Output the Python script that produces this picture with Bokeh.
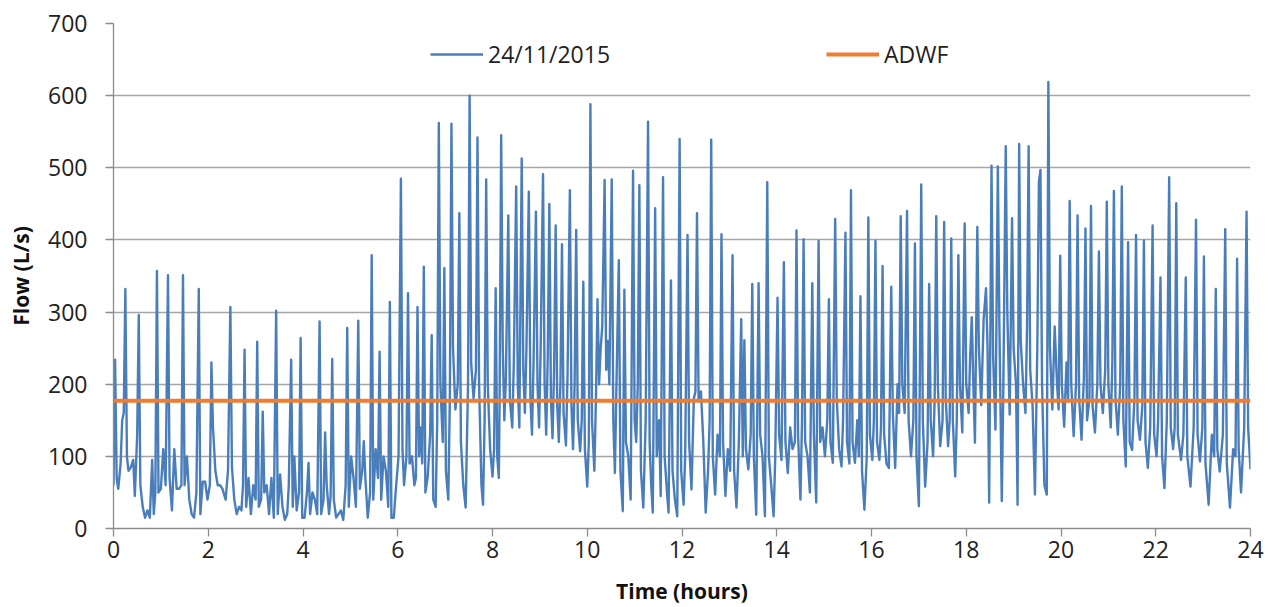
from bokeh.plotting import figure
from bokeh.models import Range1d, FixedTicker, Legend, LegendItem, ColumnDataSource
from bokeh.embed import file_html
from bokeh.resources import INLINE

# Flow record for 24/11/2015, time in minutes after midnight, flow in L/s
t_00_04 = [0, 2, 4, 6, 9, 11, 13, 15, 17, 19, 22, 25, 27, 30, 32, 34, 37, 40, 43, 46,
           49, 51, 53, 55, 57, 60, 63, 66, 69, 71, 74, 77, 80, 83, 86, 88, 90, 93, 96, 99,
           102, 105, 108, 110, 113, 116, 119, 122, 124, 126, 129, 132, 135, 138, 142, 145,
           148, 150, 153, 156, 159, 162, 164, 166, 168, 171, 174, 177, 180, 182, 184, 187,
           189, 191, 194, 197, 200, 203, 206, 208, 211, 214, 217, 220, 222, 225, 227, 229,
           232, 235, 237, 239]
q_00_04 = [60, 234, 70, 55, 90, 150, 160, 332, 100, 80, 85, 95, 45, 130, 296, 60, 30, 15, 25, 15,
           95, 20, 50, 357, 50, 55, 110, 60, 351, 70, 25, 110, 55, 55, 60, 351, 60, 100, 40, 20,
           15, 50, 332, 20, 65, 65, 40, 60, 230, 140, 80, 60, 60, 55, 40, 80,
           307, 85, 40, 20, 30, 25, 60, 248, 30, 70, 20, 60, 40, 259, 30, 40,
           162, 50, 60, 20, 70, 15, 302, 20, 75, 30, 12, 20, 60, 234, 30, 100,
           25, 50, 264, 15]

t_04_08 = [242, 245, 247, 249, 252, 255, 258, 261, 263, 266, 268, 270, 273, 275, 277, 279,
           282, 285, 288, 291, 294, 296, 298, 301, 304, 307, 310, 312, 315, 317, 319, 322,
           325, 327, 329, 332, 335, 337, 339, 342, 345, 348, 350, 352, 355, 358, 361, 364,
           366, 368, 371, 373, 375, 378, 381, 383, 385, 387, 389, 391, 393, 395, 398, 401,
           403, 405, 408, 410, 412, 414, 417, 419, 421, 424, 426, 428, 430, 433, 436, 438,
           440, 443, 446, 449, 451, 453, 456, 459, 461, 463, 466, 468, 470, 472, 474, 477, 480]
q_04_08 = [15, 50, 91, 20, 50, 40, 20, 287, 20, 40, 133, 60, 20, 45, 235, 40,
           15, 20, 25, 12, 60, 278, 30, 100, 70, 30, 288, 55, 80, 121, 70, 15,
           50, 379, 40, 110, 70, 245, 40, 100, 80, 30, 314, 15, 15, 60, 100, 485,
           110, 60, 100, 326, 90, 100, 60, 70, 307, 100, 140, 90, 363, 50, 72, 130,
           268, 40, 30, 150, 562, 200, 120, 361, 80, 40, 180, 561, 250, 165, 200, 437,
           120, 60, 29, 200, 600, 230, 180, 220, 542, 200, 60, 33, 150, 484, 200, 110, 72]

t_08_12 = [482, 484, 486, 488, 489, 491, 493, 495, 497, 500, 502, 505, 507, 510, 512, 514,
           517, 519, 521, 523, 526, 528, 530, 532, 535, 537, 539, 541, 544, 546, 548, 550,
           552, 554, 556, 558, 560, 562, 564, 566, 568, 570, 573, 575, 578, 580, 582, 584,
           586, 588, 591, 593, 595, 597, 600, 602, 604, 606, 609, 611, 613, 615, 617, 619,
           622, 624, 626, 628, 631, 633, 635, 637, 640, 642, 645, 647, 649, 652, 655, 658,
           660, 662, 664, 666, 668, 671, 674, 677, 679, 681, 683, 686, 688, 691, 693, 696,
           698, 701, 703, 706, 708, 711, 714, 717, 719]
q_08_12 = [110, 333, 100, 70, 180, 545, 250, 150, 210, 434, 180, 140, 230, 474, 200, 140,
           513, 220, 160, 250, 467, 180, 130, 230, 439, 200, 140, 250, 491, 200, 130, 240,
           450, 180, 125, 220, 420, 170, 120, 200, 394, 160, 115, 210, 469, 170, 110, 200,
           414, 150, 107, 150, 342, 110, 58, 120, 588, 150, 80, 180, 318, 200, 250, 280,
           483, 220, 260, 200, 484, 150, 77, 200, 372, 80, 24, 331, 120, 100, 40, 496,
           150, 120, 200, 476, 80, 29, 150, 564, 120, 60, 22, 444, 100, 150, 45, 487,
           100, 50, 22, 344, 80, 40, 17, 540, 80]

t_12_16 = [722, 724, 727, 729, 732, 735, 737, 739, 741, 744, 747, 750, 753, 755, 757, 759,
           762, 765, 768, 770, 772, 775, 778, 781, 784, 786, 789, 792, 795, 797, 799, 801,
           804, 807, 809, 811, 814, 817, 819, 822, 825, 828, 830, 833, 836, 838, 841, 843,
           846, 849, 851, 854, 857, 860, 863, 865, 867, 870, 872, 874, 876, 879, 882, 885,
           887, 890, 893, 895, 898, 901, 904, 906, 908, 911, 914, 916, 919, 922, 924, 927,
           929, 932, 934, 936, 939, 942, 944, 946, 948, 951, 954, 956, 958]
q_12_16 = [33, 100, 407, 120, 54, 180, 190, 437, 180, 190, 120, 22, 80, 150, 539, 100,
           47, 130, 100, 408, 120, 45, 110, 80, 379, 80, 29, 120, 290, 100, 261, 110,
           82, 130, 339, 100, 19, 340, 130, 100, 17, 480, 100, 60, 17, 95, 320, 130,
           95, 369, 120, 77, 140, 110, 120, 413, 130, 40, 150, 401, 120, 100, 50, 340,
           130, 36, 399, 120, 140, 100, 150, 318, 120, 91, 429, 180, 110, 86, 150, 410,
           120, 90, 469, 120, 91, 150, 100, 322, 80, 26, 100, 431, 130]

t_16_20 = [961, 963, 965, 967, 970, 972, 974, 976, 979, 982, 985, 987, 990, 993, 995, 997,
           999, 1002, 1005, 1007, 1010, 1013, 1015, 1017, 1020, 1023, 1025, 1028, 1031, 1033,
           1035, 1038, 1040, 1042, 1044, 1047, 1050, 1052, 1054, 1057, 1059, 1061, 1063, 1066,
           1068, 1070, 1072, 1075, 1078, 1080, 1083, 1085, 1087, 1089, 1091, 1094, 1096, 1099,
           1102, 1105, 1107, 1109, 1112, 1114, 1117, 1120, 1122, 1125, 1127, 1130, 1132, 1135,
           1138, 1140, 1143, 1145, 1147, 1149, 1152, 1155, 1157, 1159, 1161, 1164, 1167, 1170,
           1172, 1174, 1176, 1179, 1182, 1184, 1186, 1189, 1192, 1195, 1197, 1199]
q_16_20 = [95, 150, 399, 120, 95, 140, 364, 130, 90, 84, 335, 160, 84, 200, 160, 433,
           200, 160, 440, 150, 100, 150, 395, 100, 31, 477, 150, 58, 120, 339,
           150, 100, 180, 433, 200, 114, 150, 425, 180, 114, 150, 402, 150, 72,
           150, 379, 200, 133, 423, 200, 160, 240, 293, 200, 119, 418, 250, 171,
           290, 333, 250, 36, 503, 240, 137, 502, 280, 38, 200, 530, 300, 158,
           430, 250, 200, 33, 533, 260, 200, 160, 280, 530, 220, 170, 47, 250,
           480, 497, 200, 60, 47, 619, 250, 165, 280, 200, 165, 378]

t_20_24 = [1201, 1204, 1207, 1209, 1211, 1213, 1216, 1219, 1221, 1223, 1226, 1229, 1231, 1233,
           1236, 1238, 1240, 1243, 1246, 1248, 1250, 1253, 1256, 1258, 1260, 1263, 1265, 1267,
           1269, 1272, 1275, 1277, 1279, 1282, 1285, 1287, 1290, 1293, 1295, 1297, 1300, 1303,
           1305, 1307, 1310, 1313, 1316, 1318, 1321, 1323, 1326, 1328, 1331, 1334, 1337, 1339,
           1342, 1344, 1346, 1348, 1352, 1355, 1358, 1360, 1364, 1368, 1371, 1373, 1376, 1379,
           1381, 1383, 1387, 1391, 1394, 1396, 1398, 1401, 1405, 1408, 1410, 1414, 1418, 1421,
           1423, 1425, 1428, 1432, 1435, 1437, 1440]
q_20_24 = [200, 141, 230, 180, 454, 200, 128, 200, 434, 180, 123, 210, 416, 150,
           180, 447, 170, 133, 200, 384, 200, 160, 220, 453, 200, 140, 230, 468,
           180, 130, 200, 474, 150, 86, 397, 120, 109, 180, 407, 150, 123, 170,
           399, 120, 84, 140, 420, 130, 100, 150, 348, 100, 56, 150, 487, 140,
           110, 140, 451, 130, 95, 130, 348, 100, 58, 140, 428, 130, 93, 140,
           377, 90, 33, 130, 100, 332, 110, 79, 130, 415, 90, 29, 110, 100,
           374, 110, 50, 140, 439, 140, 82]

adwf_value = 177  # average dry weather flow, L/s
x_ticks = list(range(0, 25, 2))
y_ticks = list(range(0, 701, 100))

minutes = t_00_04 + t_04_08 + t_08_12 + t_12_16 + t_16_20 + t_20_24
flow = q_00_04 + q_04_08 + q_08_12 + q_12_16 + q_16_20 + q_20_24
assert len(minutes) == len(flow)
hours = [m / 60 for m in minutes]

BLUE = "#4a7ebb"
ORANGE = "#ed7d31"
GRID = "#a6a6a6"
AXIS = "#8c8c8c"
FONT = "Open Sans"

p = figure(width=1275, height=607, output_backend="svg", toolbar_location=None,
           x_range=Range1d(0, 24), y_range=Range1d(0, 700),
           min_border_left=113, min_border_right=25, min_border_top=23, min_border_bottom=78)
p.outline_line_color = None
p.background_fill_color = "white"

src = ColumnDataSource(dict(hours=hours, flow=flow))
flow_line = p.line("hours", "flow", source=src, line_color=BLUE, line_width=2.4,
                   line_join="round")
adwf_line = p.line([0, 24], [adwf_value, adwf_value], line_color=ORANGE, line_width=4)

p.xgrid.grid_line_color = None
p.ygrid.grid_line_color = GRID
p.ygrid.grid_line_width = 1.3

for ax in (p.xaxis[0], p.yaxis[0]):
    ax.axis_line_color = AXIS
    ax.axis_line_width = 1.3
    ax.major_tick_line_color = AXIS
    ax.major_tick_line_width = 1.3
    ax.major_tick_out = 8
    ax.major_tick_in = 0
    ax.minor_tick_line_color = None
    ax.major_label_text_font = FONT
    ax.major_label_text_font_size = "23px"
    ax.major_label_text_color = "#222222"
    ax.axis_label_text_font = FONT
    ax.axis_label_text_font_size = "21px"
    ax.axis_label_text_font_style = "bold"
    ax.axis_label_text_color = "#111111"

p.xaxis.ticker = FixedTicker(ticks=x_ticks)
p.yaxis.ticker = FixedTicker(ticks=y_ticks)
p.xaxis.axis_label = "Time (hours)"
p.yaxis.axis_label = "Flow (L/s)"
p.xaxis.major_label_standoff = 4
p.yaxis.major_label_standoff = 18
p.xaxis.axis_label_standoff = 16
p.yaxis.axis_label_standoff = 10

def make_legend(label, renderer, x, y):
    leg = Legend(items=[LegendItem(label=label, renderers=[renderer])],
                 location=(x, y), orientation="horizontal",
                 glyph_width=53, glyph_height=20, label_standoff=5,
                 padding=0, margin=0, spacing=0,
                 border_line_color=None, background_fill_alpha=0,
                 label_text_font=FONT, label_text_font_size="23px",
                 label_text_color="#222222")
    return leg

p.add_layout(make_legend("24/11/2015", flow_line, 317, 458))
p.add_layout(make_legend("ADWF", adwf_line, 713, 458))

open("out.html", "w").write(file_html(p, INLINE))
